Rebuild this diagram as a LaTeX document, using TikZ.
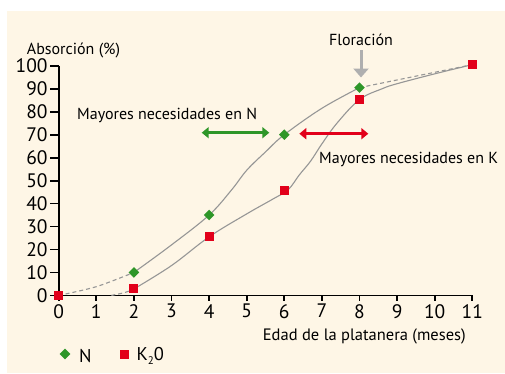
\documentclass[tikz,border=0pt]{standalone}
\usepackage{fontspec}
\setmainfont{PT Sans}
\usetikzlibrary{arrows.meta}
\definecolor{bg}{RGB}{254,246,230}
\definecolor{ngreen}{RGB}{46,150,40}
\definecolor{kred}{RGB}{226,0,26}
\definecolor{curvegray}{RGB}{150,150,150}
\definecolor{florgray}{RGB}{175,175,175}
\begin{document}
\begin{tikzpicture}[x=1pt,y=-1pt,
  axis/.style={line width=1.8pt,black},
  ticklab/.style={font=\fontsize{19.5}{19.5}\selectfont,inner sep=1.5pt},
  lab/.style={font=\fontsize{16}{17}\selectfont,inner sep=0pt},
  curve/.style={curvegray,line width=1.1pt},
  dcurve/.style={curve,dash pattern=on 4pt off 3pt},
  nmark/.style={rectangle,rotate=45,fill=ngreen,minimum size=7.5pt,inner sep=0pt},
  kmark/.style={rectangle,fill=kred,minimum size=9pt,inner sep=0pt},
  dbl/.style={line width=3.2pt,{Triangle[length=7pt,width=11pt]}-{Triangle[length=7pt,width=11pt]}}
]
\useasboundingbox (0,0) rectangle (505,373);
\fill[bg] (7,11) rectangle (505,373);
\coordinate (O) at (58.7,295.4);
\begin{scope}[shift={(O)},x=37.6pt,y=2.296pt]
  % axes
  \draw[axis] (0,100) -- (0,0) -- (11,0);
  \foreach \v in {0,10,...,100}
    \draw[axis] (0,\v) -- ++(-8.7pt,0) node[anchor=east,ticklab] {\v};
  \foreach \t in {0,...,11}
    \draw[axis] (\t,0) -- ++(0,-6pt) node[anchor=north,ticklab,inner sep=2pt] {\t};
  % data
  \coordinate (n0) at (0,0);
  \coordinate (n2) at (2,10);
  \coordinate (n4) at (4,35);
  \coordinate (n6) at (6,70);
  \coordinate (n8) at (8,90.5);
  \coordinate (k0) at (0,0);
  \coordinate (ks) at (1.4,0);
  \coordinate (k2) at (2,2.8);
  \coordinate (k4) at (4,25.5);
  \coordinate (k6) at (6,45.5);
  \coordinate (k8) at (8,85.3);
  \coordinate (k11) at (11,100.5);
  % curves
  \draw[dcurve] plot[smooth] coordinates {(n0) (1,3.8) (n2)};
  \draw[curve] plot[smooth,tension=0.6] coordinates {(n2) (3,22) (n4) (4.6,46) (5,54.5) (5.5,62.5) (n6) (7,81.5) (n8)};
  \draw[dcurve] plot[smooth] coordinates {(n8) (9.5,95.5) (k11)};
  \draw[dcurve] plot[smooth] coordinates {(ks) (1.75,1.2) (k2)};
  \draw[curve] plot[smooth,tension=0.6] coordinates {(k2) (3,13) (k4) (5,35.5) (5.7,42) (6.1,46) (6.4,52.5) (6.7,58.5) (7,66) (7.4,75) (k8) (8.6,90) (9,92.2) (10,96.5) (k11)};
  % markers
  \foreach \p in {n2,n4,n6,n8} \node[nmark] at (\p) {};
  \foreach \p in {k0,k2,k4,k6,k8,k11} \node[kmark] at (\p) {};
\end{scope}
% arrows
\coordinate (ga) at (201.7,132.7);
\coordinate (gb) at (269.3,132.7);
\draw[dbl,ngreen] (ga) -- (gb);
\coordinate (ra) at (299.3,133.7);
\coordinate (rb) at (368.3,133.7);
\draw[dbl,kred] (ra) -- (rb);
\coordinate (fa) at (361,50);
\coordinate (fb) at (361,77.5);
\draw[florgray,line width=3pt,-{Triangle[length=9pt,width=15pt]}] (fa) -- (fb);
% texts
\node[lab,anchor=west] (abs) at (26.7,50) {Absorción (\%)};
\node[lab] (flo) at (361,40) {Floración};
\node[lab,anchor=west] (mn) at (77,115.7) {Mayores necesidades en N};
\node[lab,anchor=west] (mk) at (319,159) {Mayores necesidades en K};
\node[lab,anchor=west,font=\fontsize{16.5}{17.5}\selectfont] (ed) at (262.7,336.7) {Edad de la platanera (meses)};
% legend
\node[nmark] (ln) at (65,354) {};
\node[lab,anchor=west,font=\fontsize{18.5}{18.5}\selectfont] (ltn) at (79,356) {N};
\node[kmark] (lk) at (124,354) {};
\node[lab,anchor=west,font=\fontsize{18.5}{18.5}\selectfont] (ltk) at (136.5,356) {K\raisebox{-0.35ex}{\fontsize{11}{11}\selectfont 2}0};
\end{tikzpicture}
\end{document}
